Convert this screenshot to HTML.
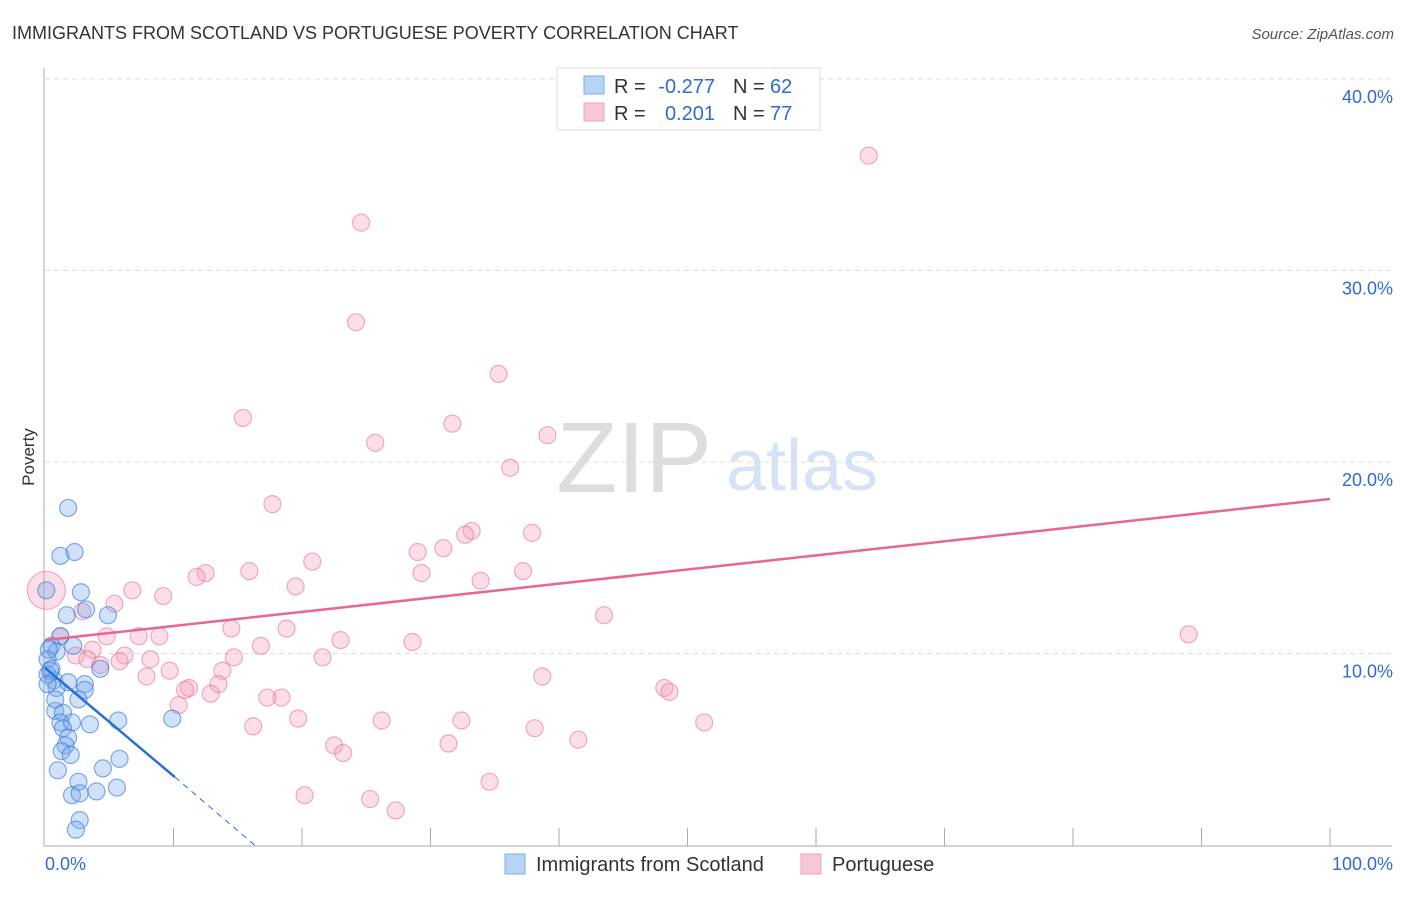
<!DOCTYPE html>
<html><head><meta charset="utf-8"><style>
body{margin:0;background:#fff;font-family:"Liberation Sans",sans-serif}
svg text{font-family:"Liberation Sans",sans-serif}
</style></head><body>
<svg id="c" width="1406" height="892">
<text x="12" y="39" font-size="18" fill="#333">IMMIGRANTS FROM SCOTLAND VS PORTUGUESE POVERTY CORRELATION CHART</text>
<text x="1394" y="39" font-size="15" fill="#555" font-style="italic" text-anchor="end">Source: ZipAtlas.com</text>
<text x="34" y="457" font-size="17" fill="#333" transform="rotate(-90 34 457)" text-anchor="middle">Poverty</text>
<text x="634" y="492" font-size="100" fill="#ddd" font-family="Liberation Serif" text-anchor="middle">ZIP</text>
<text x="802" y="490" font-size="72" fill="#d5e3f5" text-anchor="middle">atlas</text>
<g id="grid"></g><g id="pts"></g><g id="lines"></g>
<g>
<rect x="557" y="68" width="263" height="62" fill="#fff" stroke="#ddd"/>
<rect x="584" y="76" width="20" height="18" fill="#b8d4f5" stroke="#7aaee8"/>
<rect x="584" y="103" width="20" height="18" fill="#f8c7d6" stroke="#eda0b8"/>
<text x="614" y="93" font-size="20" fill="#333">R =</text>
<text x="715" y="93" font-size="20" fill="#2f6bd1" text-anchor="end">-0.277</text>
<text x="733" y="93" font-size="20" fill="#333">N =</text>
<text x="770" y="93" font-size="20" fill="#2f6bd1">62</text>
<text x="614" y="120" font-size="20" fill="#333">R =</text>
<text x="715" y="120" font-size="20" fill="#2f6bd1" text-anchor="end">0.201</text>
<text x="733" y="120" font-size="20" fill="#333">N =</text>
<text x="770" y="120" font-size="20" fill="#2f6bd1">77</text>
</g>
<g>
<rect x="505" y="854" width="20" height="20" fill="#b8d4f5" stroke="#7aaee8"/>
<text x="536" y="871" font-size="20" fill="#333">Immigrants from Scotland</text>
<rect x="801" y="854" width="20" height="20" fill="#f8c7d6" stroke="#eda0b8"/>
<text x="832" y="871" font-size="20" fill="#333">Portuguese</text>
</g>
</svg>
<script>
const yTicks=[10,20,30,40];
const xTickLabels=["0.0%","100.0%"];
const blueX=[1.8,1.2,2.3,2.8,0.1,1.7,3.2,4.9,1.2,0.5,2.2,0.9,0.2,0.5,0.2,0.7,0.9,1.8,3.1,3.1,4.3,2.6,0.8,1.4,1.2,2.1,3.5,5.7,9.9,1.4,1.8,1.6,1.3,2.0,5.8,1.0,4.5,2.6,2.1,2.7,4.0,5.6,2.7,2.4,0.3,0.4,0.2,0.8];
const blueY=[17.6,15.1,15.3,13.2,13.3,12.0,12.3,12.0,10.9,10.4,10.4,10.1,9.7,9.2,8.9,8.6,8.2,8.5,8.4,8.1,9.2,7.6,7.0,6.9,6.4,6.4,6.3,6.5,6.6,6.1,5.6,5.2,4.9,4.7,4.5,3.9,4.0,3.3,2.6,2.7,2.8,3.0,1.3,0.8,10.2,9.1,8.4,7.6];
const pinkX=[64.1,24.6,24.2,35.3,15.4,31.7,25.7,39.1,36.2,17.7,33.2,32.7,37.9,31.0,29.0,20.8,12.5,11.8,15.9,29.3,37.2,33.9,19.5,6.8,9.2,5.4,2.9,43.5,89.0,14.5,18.8,7.3,8.9,4.8,1.2,28.6,23.0,16.8,3.7,6.2,2.4,14.7,21.6,8.2,5.8,3.3,4.3,13.8,9.7,7.9,38.7,13.5,11.2,10.9,48.2,48.6,18.4,17.3,12.9,10.4,19.7,26.2,32.4,16.2,51.3,38.1,41.5,31.4,22.5,23.2,34.6,20.2,25.3,27.3];
const pinkY=[36.0,32.5,27.3,24.6,22.3,22.0,21.0,21.4,19.7,17.8,16.4,16.2,16.3,15.5,15.3,14.8,14.2,14.0,14.3,14.2,14.3,13.8,13.5,13.3,13.0,12.6,12.2,12.0,11.0,11.3,11.3,10.9,10.9,10.9,10.9,10.6,10.7,10.4,10.2,9.9,9.9,9.8,9.8,9.7,9.6,9.7,9.4,9.1,9.1,8.8,8.8,8.4,8.2,8.1,8.2,8.0,7.7,7.7,7.9,7.3,6.6,6.5,6.5,6.2,6.4,6.1,5.5,5.3,5.2,4.8,3.3,2.6,2.4,1.8];
const pinkTrend=[10.7,18.07];
const blueTrend=[9.25,3.55,10.1,16.3];
const sx=v=>45+v*12.85, sy=v=>845-v*19.15;
const NS="http://www.w3.org/2000/svg";
function mk(p,t,a){const e=document.createElementNS(NS,t);for(const k in a)e.setAttribute(k,a[k]);p.appendChild(e);return e;}
const g=document.getElementById('grid');
for(const t of yTicks){const l=mk(g,'line',{x1:45,x2:1392,y1:sy(t),y2:sy(t),stroke:'#ddd','stroke-dasharray':'5,4'});


const tx=mk(g,'text',{x:1393,y:sy(t)+24,'font-size':18,fill:'#2f6bd1','text-anchor':'end'});tx.textContent=t.toFixed(1)+'%';

}
mk(g,'line',{x1:44,x2:44,y1:68,y2:846,stroke:'#aaa'});
mk(g,'line',{x1:44,x2:1392,y1:846,y2:846,stroke:'#aaa'});
for(let i=1;i<=10;i++)mk(g,'line',{x1:sx(i*10),x2:sx(i*10),y1:828,y2:846,stroke:'#aaa'});
const x0=mk(g,'text',{x:45,y:870,'font-size':18,fill:'#2f6bd1'});x0.textContent=xTickLabels[0];


const x1=mk(g,'text',{x:1393,y:870,'font-size':18,fill:'#2f6bd1','text-anchor':'end'});x1.textContent=xTickLabels[1];


const P=document.getElementById('pts');
pinkX.forEach((x,i)=>{const c=mk(P,'circle',{cx:sx(x),cy:sy(pinkY[i]),r:8.5,fill:'rgba(244,160,186,0.35)',stroke:'rgba(230,120,155,0.6)','stroke-width':1.2});

});
const big=mk(P,'circle',{cx:sx(0.1),cy:sy(13.3),r:19,fill:'rgba(244,160,186,0.35)',stroke:'rgba(230,120,155,0.6)','stroke-width':1.2});


blueX.forEach((x,i)=>{const c=mk(P,'circle',{cx:sx(x),cy:sy(blueY[i]),r:8.5,fill:'rgba(120,170,235,0.35)',stroke:'rgba(50,120,215,0.6)','stroke-width':1.2});

});
const L=document.getElementById('lines');
const pl=mk(L,'line',{x1:sx(0),y1:sy(pinkTrend[0]),x2:sx(100),y2:sy(pinkTrend[1]),stroke:'#e8678f','stroke-width':2.5});


const bl=mk(L,'line',{x1:sx(0),y1:sy(blueTrend[0]),x2:sx(blueTrend[2]),y2:sy(blueTrend[1]),stroke:'#2a6fd6','stroke-width':2.5});


const bd=mk(L,'line',{x1:sx(blueTrend[2]),y1:sy(blueTrend[1]),x2:sx(blueTrend[3]),y2:sy(0),stroke:'#2a6fd6','stroke-width':1,'stroke-dasharray':'6,5'});


</script>
</body></html>
